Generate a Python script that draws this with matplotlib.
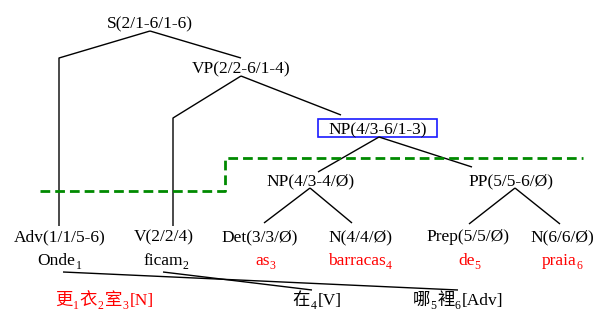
import numpy as np
import matplotlib
matplotlib.use('Agg')
import matplotlib.pyplot as plt
from matplotlib.patches import Rectangle

# 설정
SERIF = 'Liberation Serif'
CJK = 'Noto Sans CJK TC'
FS = 12.5
SUB_FS = 8.5

# 구문 노드
internal_labels = ['S(2/1-6/1-6)', 'VP(2/2-6/1-4)', 'NP(4/3-4/Ø)', 'PP(5/5-6/Ø)']
boxed_label = 'NP(4/3-6/1-3)'
leaf_labels = ['Adv(1/1/5-6)', 'V(2/2/4)', 'Det(3/3/Ø)', 'N(4/4/Ø)', 'Prep(5/5/Ø)', 'N(6/6/Ø)']

# 포르투갈어 단어 / 아래첨자 / 색
words = ['Onde', 'ficam', 'as', 'barracas', 'de', 'praia']
word_subs = ['1', '2', '3', '4', '5', '6']
word_colors = ['black', 'black', 'red', 'red', 'red', 'red']

# 중국어 대응: (문자열, 종류) 종류 = 'zh' / 'sub' / 'lat'
zh_items = [
    [('更', 'zh'), ('1', 'sub'), ('衣', 'zh'), ('2', 'sub'), ('室', 'zh'), ('3', 'sub'), ('[N]', 'lat')],
    [('在', 'zh'), ('4', 'sub'), ('[V]', 'lat')],
    [('哪', 'zh'), ('5', 'sub'), ('裡', 'zh'), ('6', 'sub'), ('[Adv]', 'lat')],
]
zh_colors = ['red', 'black', 'black']

# 레이아웃 (픽셀 좌표, y 아래 방향)
internal_pos = [(150, 28), (241, 73), (311, 185), (511, 185)]
boxed_pos = (378, 134)
box_rect = (318, 119, 119, 18)
leaf_pos = [(60, 241), (164, 241), (260, 241), (360, 241), (468, 241), (562, 241)]
word_x = [37, 143, 255, 328, 458, 542]
word_y = 265
zh_x = [55, 292, 413]
zh_y = 305

tree_paths = [
    [(150, 31), (59, 58), (59, 226)],
    [(150, 31), (241, 58)],
    [(241, 76), (173, 118), (173, 226)],
    [(241, 76), (341, 115)],
    [(379, 137), (318, 172)],
    [(379, 137), (472, 167)],
    [(310, 188), (264, 223)],
    [(310, 188), (352, 223)],
    [(515, 188), (469, 224)],
    [(515, 188), (560, 224)],
]
align_paths = [
    [(63, 272), (458, 290)],
    [(163, 272), (312, 290)],
]
green_path = [(40, 191), (225, 191), (225, 158), (583, 158)]


def ink_right(fig, x0, r0, r1):
    # 방금 그린 조각의 오른쪽 끝을 실제 픽셀에서 찾기
    fig.canvas.draw()
    buf = np.asarray(fig.canvas.buffer_rgba())[:, :, :3]
    x0 = int(x0) - 2
    region = buf[r0:r1, x0:x0 + 90]
    cols = np.where((region.min(axis=2) < 225).any(axis=0))[0]
    if len(cols) == 0:
        return x0 + 2
    return x0 + cols.max() + 1


def chain_text(fig, ax, x, y, parts, color):
    cur = x
    for s, kind in parts:
        if kind == 'sub':
            fam, size, yy, gap = SERIF, SUB_FS, y + 4, 1.0
            r0, r1 = y - 3, y + 5
        else:
            fam = CJK if kind == 'zh' else SERIF
            size, yy, gap = FS, y, 0.5
            r0, r1 = y - 13, y
        ax.text(cur, yy, s, fontsize=size, color=color, family=fam,
                ha='left', va='baseline')
        cur = ink_right(fig, cur, r0, r1) + gap


def main():
    fig = plt.figure(figsize=(5.95, 3.11), dpi=100)
    ax = fig.add_axes([0, 0, 1, 1])
    ax.set_xlim(0, 595)
    ax.set_ylim(311, 0)
    ax.axis('off')

    for path in tree_paths + align_paths:
        xs, ys = zip(*path)
        ax.plot(xs, ys, color='black', lw=1.0, solid_capstyle='butt')

    xs, ys = zip(*green_path)
    ax.plot(xs, ys, color='#008a00', lw=2.0, linestyle=(0, (3.5, 1.8)))

    for lab, (x, y) in zip(internal_labels, internal_pos):
        ax.text(x, y, lab, fontsize=FS, family=SERIF, ha='center', va='baseline')

    bx, by, bw, bh = box_rect
    ax.add_patch(Rectangle((bx, by), bw, bh, fill=False, ec='#1a1aff', lw=1.2))
    ax.text(boxed_pos[0], boxed_pos[1], boxed_label, fontsize=FS, family=SERIF,
            ha='center', va='baseline')

    for lab, (x, y) in zip(leaf_labels, leaf_pos):
        ax.text(x, y, lab, fontsize=FS, family=SERIF, ha='center', va='baseline')

    for w, sub, col, x in zip(words, word_subs, word_colors, word_x):
        chain_text(fig, ax, x, word_y, [(w, 'lat'), (sub, 'sub')], col)

    for parts, col, x in zip(zh_items, zh_colors, zh_x):
        chain_text(fig, ax, x, zh_y, parts, col)

    fig.savefig('out.png', dpi=100)
    plt.close(fig)


if __name__ == '__main__':
    main()
